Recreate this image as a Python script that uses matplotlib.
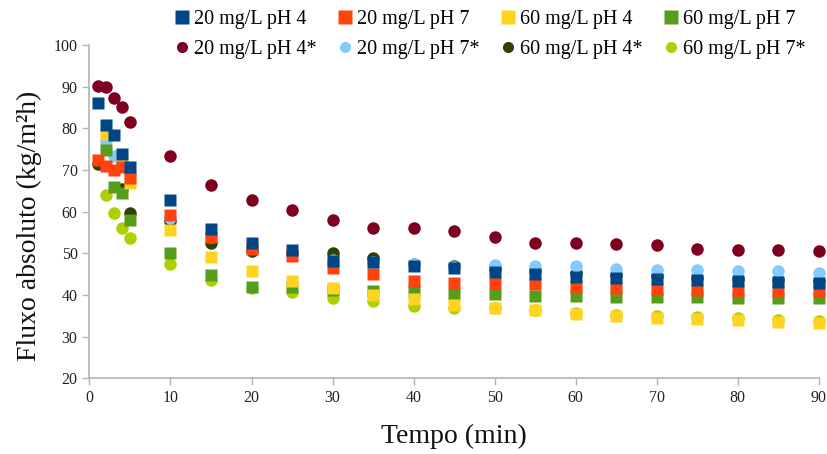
import numpy as np
import matplotlib
matplotlib.use("Agg")
import matplotlib.pyplot as plt
from matplotlib.lines import Line2D

plt.rcParams['font.family'] = ['Liberation Serif', 'DejaVu Serif']

nan = np.nan
tempo = [1, 2, 3, 4, 5, 10, 15, 20, 25, 30, 35, 40, 45, 50, 55, 60, 65, 70, 75, 80, 85, 90]

# squares
c20_ph4 = [86.0, 80.8, 78.4, 73.8, 70.8, 62.8, 55.8, 52.4, 50.8, 48.2, 48.0, 47.0, 46.4, 45.6,
           45.0, 44.4, 44.2, 43.9, 43.6, 43.4, 43.1, 42.8]
c20_ph7 = [72.4, 71.0, 70.0, 70.8, 68.0, 59.2, 54.0, 51.0, 49.3, 46.6, 45.0, 43.4, 42.8, 42.8,
           42.6, 42.0, 41.6, 41.4, 41.2, 41.0, 41.0, 41.0]
c60_ph4 = [nan, 78.6, nan, 72.0, 66.8, 55.5, 49.2, 45.8, 43.4, 41.6, 40.0, 39.0, 37.6, 36.8,
           36.3, 35.5, 35.0, 34.6, 34.3, 34.0, 33.5, 33.4]
c60_ph7 = [nan, 74.8, 66.0, 64.5, 58.0, 50.2, 44.8, 42.0, 42.0, 41.2, 41.0, 41.0, 40.3, 40.2,
           39.8, 39.8, 39.5, 39.5, 39.5, 39.2, 39.2, 39.2]
# circles (*)
c20_ph4s = [90.2, 90.0, 87.4, 85.1, 81.5, 73.3, 66.3, 62.7, 60.5, 57.9, 56.0, 56.0, 55.4, 53.9,
            52.6, 52.4, 52.2, 52.0, 51.0, 50.8, 50.8, 50.6]
c20_ph7s = [nan, 77.0, 73.3, 71.5, 69.0, 58.5, 54.0, 51.5, 49.5, 48.5, 48.0, 47.5, 46.8, 47.2,
            47.0, 47.0, 46.2, 46.0, 46.0, 45.8, 45.8, 45.2]
c60_ph4s = [71.5, nan, nan, 65.5, 59.8, 57.8, 52.6, 50.5, 50.2, 50.0, 49.0, 47.5, 47.0, 46.2,
            45.8, 45.2, 44.8, 44.5, 44.2, 43.9, 43.7, 43.4]
c60_ph7s = [nan, 64.0, 59.6, 56.0, 53.6, 47.5, 43.6, 41.8, 40.7, 39.2, 38.5, 37.4, 37.0, 36.8,
            36.5, 35.8, 35.3, 35.0, 34.7, 34.4, 34.0, 33.8]

labels_sq = ["20 mg/L pH 4", "20 mg/L pH 7", "60 mg/L pH 4", "60 mg/L pH 7"]
labels_ci = ["20 mg/L pH 4*", "20 mg/L pH 7*", "60 mg/L pH 4*", "60 mg/L pH 7*"]
cols_sq = ["#004586", "#ff420e", "#ffd320", "#579d1c"]
cols_ci = ["#7e0021", "#83caff", "#314004", "#aecf00"]
series_sq = [c20_ph4, c20_ph7, c60_ph4, c60_ph7]
series_ci = [c20_ph4s, c20_ph7s, c60_ph4s, c60_ph7s]

fig = plt.figure(figsize=(8.28, 4.54), dpi=100)
ax = fig.add_axes([0.108, 0.1665, 0.881, 0.7344])

# circles underneath, squares on top (last series first so blue ends on top)
for ys, c in zip(series_ci[::-1], cols_ci[::-1]):
    ax.plot(tempo, ys, "o", ms=9, color=c, mec="none", clip_on=False)
for ys, c in zip(series_sq[::-1], cols_sq[::-1]):
    ax.plot(tempo, ys, "s", ms=9, color=c, mec="none", clip_on=False)

ax.set_xlim(0, 90); ax.set_ylim(20, 100)
ax.set_xticks(range(0, 91, 10)); ax.set_yticks(range(20, 101, 10))
for s in ["top", "right"]:
    ax.spines[s].set_visible(False)
for s in ["left", "bottom"]:
    ax.spines[s].set_color("#b3b3b3"); ax.spines[s].set_linewidth(1.2)
ax.tick_params(colors="#b3b3b3", labelcolor="#222222", labelsize=11.5, length=5, width=1)
ax.set_xlabel("Tempo (min)", fontsize=20, color="#111111", labelpad=13)
ax.set_ylabel("Fluxo absoluto (kg/m²h)", fontsize=20, color="#111111")
ax.yaxis.set_label_coords(-0.065, 0.457)

handles, labs = [], []
for i in range(4):
    handles.append(Line2D([], [], ls="none", marker="s", ms=9.5, color=cols_sq[i], mec="none"))
    labs.append(labels_sq[i])
    handles.append(Line2D([], [], ls="none", marker="o", ms=8, color=cols_ci[i], mec="none"))
    labs.append(labels_ci[i])
fig.legend(handles, labs, ncol=4, loc="upper left", bbox_to_anchor=(0.205, 0.987),
           frameon=False, fontsize=14.5, handlelength=0.8, handletextpad=0.2,
           columnspacing=1.0, labelspacing=0.55, borderaxespad=0, borderpad=0.2)

fig.savefig("out.png", dpi=100)
